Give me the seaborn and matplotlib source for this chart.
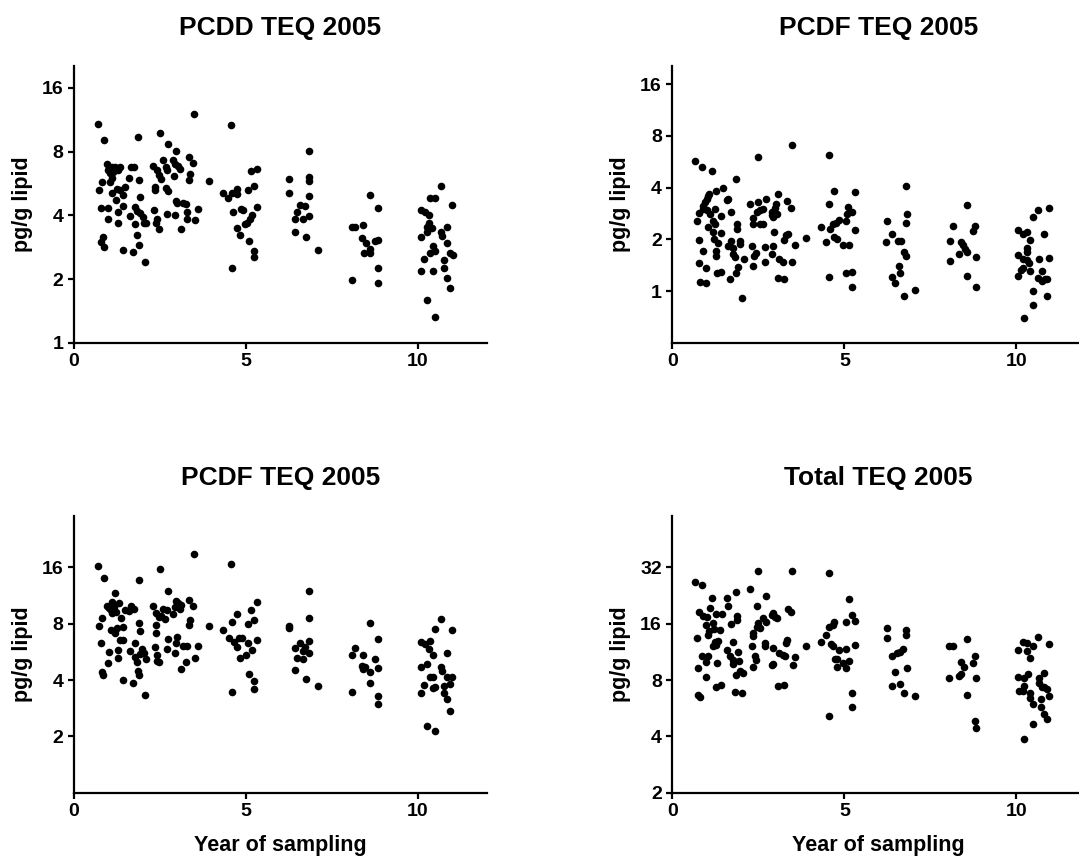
import matplotlib
matplotlib.use("Agg")
import matplotlib.pyplot as plt
import seaborn as sns
import pandas as pd
from matplotlib.ticker import FixedLocator, FixedFormatter, NullLocator

# ---------------- data ----------------
titles = ["PCDD TEQ 2005", "PCDF TEQ 2005", "PCDF TEQ 2005", "Total TEQ 2005"]
x_label = "Year of sampling"
y_label = "pg/g lipid"
x_ticks = [0, 5, 10]

pcdd_year = [0.70,0.88,1.87,2.51,3.49,2.74,2.95,3.35,3.47,2.60,2.89,2.94,3.03,3.08,2.30,2.40,2.48,2.52,2.68,2.69,
             0.95,1.00,1.09,1.19,1.34,1.05,1.14,1.29,1.65,1.74,0.80,1.09,1.05,1.60,1.90,2.92,3.37,3.33,3.91,0.73,
             1.09,1.24,1.34,1.48,1.22,1.41,2.36,2.35,2.66,2.72,1.92,2.97,2.98,3.16,3.25,0.78,1.00,1.41,1.77,1.84,
             1.92,2.00,1.28,1.63,2.33,2.71,2.93,3.28,3.59,1.00,1.29,1.78,2.02,2.09,2.40,2.38,2.47,3.28,3.52,3.10,
             1.84,1.89,0.83,0.78,0.88,1.41,1.71,2.05,
             4.56,4.34,4.49,4.58,4.73,4.73,5.07,5.24,5.15,5.32,4.63,4.84,4.90,5.33,5.16,5.12,5.04,4.98,4.73,4.83,
             5.08,5.24,5.24,4.58,
             6.24,6.24,6.41,6.41,6.49,6.57,6.72,6.65,6.74,6.83,6.83,6.84,6.84,6.83,7.08,
             8.08,8.16,8.41,8.59,8.83,8.36,8.49,8.75,8.83,8.43,8.59,8.60,8.83,8.08,8.83,
             10.67,10.35,10.49,11.00,10.08,10.20,10.33,10.33,10.25,10.40,10.25,10.84,10.67,10.69,10.08,10.43,
             10.49,10.35,10.84,10.92,11.01,10.16,10.76,10.09,10.43,10.76,10.84,10.92,10.25,10.49]
pcdd_teq = [10.8,9.06,9.4,9.8,12.1,8.74,8.04,7.51,7.09,7.29,7.29,7.03,6.84,6.66,6.86,6.54,6.20,5.96,6.79,6.54,
            7.03,6.54,6.79,6.79,6.79,6.31,6.43,6.54,6.74,6.74,5.77,5.98,5.77,6.02,5.87,6.13,6.27,5.87,5.83,5.27,
            5.12,5.33,5.27,5.46,4.73,4.99,5.46,5.30,5.40,5.23,4.90,4.69,4.59,4.56,4.52,4.36,4.36,4.43,4.39,4.21,
            4.09,3.94,4.13,3.97,4.24,4.07,4.00,4.15,4.28,3.83,3.67,3.63,3.69,3.69,3.84,3.67,3.44,3.83,3.80,3.44,
            3.25,2.90,3.17,3.00,2.83,2.75,2.68,2.42,
            10.7,5.13,4.86,5.08,5.33,5.04,5.27,5.50,6.50,6.66,4.16,4.27,4.24,4.39,4.01,3.83,3.69,3.64,3.50,3.23,
            3.03,2.72,2.54,2.27,
            5.96,5.13,3.83,3.35,4.13,4.48,4.44,3.83,3.17,8.07,6.09,5.83,4.93,3.97,2.75,
            3.51,3.54,3.60,4.99,4.35,3.12,2.97,3.04,3.06,2.65,2.77,2.65,2.25,1.98,1.91,
            5.52,4.85,4.86,4.46,4.24,4.16,4.00,3.69,3.54,3.50,3.35,3.51,3.35,3.20,3.15,2.87,2.73,2.65,2.97,2.67,
            2.60,2.48,2.46,2.19,2.19,2.27,2.03,1.81,1.60,1.33]

pcdf_year = [0.67,0.86,1.16,1.85,2.49,3.47,1.27,1.46,1.08,1.05,1.00,0.95,0.90,0.88,1.24,1.00,0.78,1.09,0.71,1.41,
             1.05,1.19,1.24,1.19,1.41,0.78,1.21,1.34,0.88,1.26,1.27,0.77,0.98,1.31,1.41,0.80,0.97,1.72,1.63,1.58,
             1.89,1.87,1.72,1.61,1.77,1.97,1.97,1.77,1.82,1.90,1.85,1.69,2.07,2.03,2.26,2.50,2.72,2.65,2.55,2.45,
             2.35,2.34,2.55,2.65,2.89,2.94,2.98,3.00,2.89,3.08,3.05,3.32,3.44,2.97,3.35,3.30,3.26,3.57,2.33,2.42,
             2.38,2.69,2.94,2.89,3.10,3.21,2.70,2.35,3.08,3.25,3.49,3.89,
             4.54,4.71,5.30,4.55,4.33,4.47,4.58,4.68,4.76,4.84,4.70,4.80,5.05,5.07,5.12,5.21,5.30,4.97,5.15,4.56,
             5.05,5.21,5.21,
             6.23,6.38,6.21,6.55,6.38,6.47,6.60,6.62,6.64,6.72,6.79,6.79,6.81,6.79,6.72,7.05,
             8.56,8.15,8.80,8.73,8.07,8.38,8.44,8.51,8.58,8.33,8.82,8.07,8.56,8.82,
             10.64,10.96,10.47,10.06,10.18,10.30,10.40,10.80,10.30,10.32,10.06,10.20,10.30,10.38,10.65,10.96,
             10.20,10.14,10.40,10.74,10.64,10.74,10.83,10.90,10.06,10.48,10.88,10.48,10.23]
pcdf_teq = [5.72,5.28,5.00,4.47,6.04,7.06,3.83,3.98,3.69,3.56,3.45,3.30,3.11,3.02,3.02,2.95,2.85,2.82,2.55,2.72,
            2.36,2.56,2.47,2.21,2.19,1.99,2.02,1.90,1.71,1.71,1.61,1.46,1.37,1.27,1.30,1.13,1.12,2.89,3.45,3.38,
            2.47,2.31,1.97,1.83,1.79,1.97,1.89,1.65,1.58,1.39,1.28,1.18,1.53,0.91,3.23,3.30,3.42,3.02,2.95,2.89,
            2.67,2.47,2.47,2.47,2.76,2.70,3.06,3.20,2.89,3.66,2.80,3.35,3.06,2.21,2.14,2.11,1.99,1.85,1.83,1.67,
            1.61,1.80,1.83,1.65,1.53,1.48,1.48,1.40,1.20,1.17,1.48,2.05,
            6.17,3.81,3.77,3.20,2.36,1.92,2.31,2.45,2.49,2.58,2.08,2.02,2.55,2.80,3.09,2.89,2.26,1.85,1.85,1.21,
            1.28,1.29,1.06,
            2.55,2.16,1.93,1.97,1.21,1.11,1.41,1.28,1.96,1.69,1.61,4.07,2.82,2.49,0.94,1.02,
            3.16,2.41,2.38,2.24,1.97,1.93,1.85,1.76,1.70,1.64,1.58,1.50,1.22,1.06,
            2.98,3.05,2.70,2.26,2.14,2.21,1.99,2.14,1.78,1.69,1.63,1.53,1.51,1.46,1.53,1.56,1.37,1.32,1.31,1.31,
            1.20,1.15,1.18,1.18,1.23,1.00,0.94,0.83,0.70]

pcdf2_year = [0.69,0.88,1.88,2.51,3.49,2.74,1.19,0.95,1.03,1.11,1.16,1.07,1.32,1.49,1.61,1.66,1.74,1.11,1.22,1.37,
              0.80,0.73,1.07,1.19,1.24,1.43,1.34,1.43,1.90,1.92,2.29,2.38,2.48,2.52,2.60,2.65,2.69,2.89,2.93,2.95,
              3.03,3.08,3.11,3.35,3.47,3.37,3.33,2.37,2.37,3.91,0.78,1.01,1.27,1.29,1.00,0.80,0.83,1.41,1.71,2.05,
              1.85,1.90,1.84,1.63,1.77,1.78,1.92,2.02,2.09,1.97,2.34,2.42,2.47,2.40,2.71,2.72,2.98,2.97,2.93,3.16,
              3.28,3.26,3.52,3.59,3.10,
              4.56,4.34,4.50,4.58,4.65,4.75,4.81,4.87,4.83,4.75,5.07,5.15,5.32,5.24,5.32,5.07,5.16,5.00,5.08,5.24,
              5.24,4.58,
              6.24,6.24,6.41,6.49,6.41,6.57,6.72,6.67,6.65,6.83,6.83,6.84,6.83,6.74,7.08,
              8.17,8.08,8.41,8.59,8.83,8.75,8.36,8.46,8.41,8.59,8.83,8.59,8.08,8.83,8.83,
              10.67,10.49,11.00,10.08,10.20,10.35,10.33,10.43,10.84,10.08,10.25,10.67,10.69,10.35,10.43,10.84,
              11.00,10.94,10.16,10.43,10.49,10.76,10.09,10.76,10.84,10.92,10.25,10.49]
pcdf2_teq = [16.3,14.1,13.7,15.6,18.9,12.0,11.7,9.99,9.66,10.4,9.86,9.46,10.3,9.46,9.35,9.94,9.58,9.08,9.27,8.61,
             8.54,7.77,7.40,7.16,7.55,7.65,6.54,6.54,8.10,7.34,9.99,9.16,8.65,8.79,9.62,8.47,9.46,9.01,9.86,10.6,
             10.3,9.62,10.1,10.7,10.0,8.37,7.87,7.87,7.10,7.77,6.28,5.67,5.79,5.22,4.91,4.43,4.25,4.00,3.84,3.31,
             4.47,4.25,5.01,5.74,6.28,5.29,5.51,5.60,5.18,5.83,6.03,5.44,5.01,5.07,5.83,6.65,6.82,6.33,5.55,6.08,
             6.08,5.01,5.26,6.08,4.58,
             16.7,7.40,6.68,8.20,6.41,9.01,6.73,6.68,5.22,5.98,7.97,9.46,10.4,8.37,6.54,6.33,5.79,5.44,4.29,3.95,
             3.57,3.47,
             7.77,7.55,5.91,5.22,4.52,6.33,6.03,5.74,5.18,5.55,6.49,8.54,12.0,4.05,3.73,
             5.91,5.44,5.44,8.03,6.65,5.20,4.75,4.71,4.56,4.41,4.64,3.84,3.45,3.30,2.97,
             8.44,7.49,7.43,6.41,6.23,6.46,5.83,5.42,5.60,4.71,4.87,4.71,4.47,4.13,4.13,4.13,4.13,3.81,3.78,3.64,
             3.69,3.73,3.39,3.39,3.17,2.74,2.27,2.15]

total_year = [0.67,0.86,2.49,3.47,1.85,2.26,2.72,1.16,1.58,1.63,1.09,0.78,0.90,1.00,1.27,1.45,1.87,1.89,1.19,0.98,
              1.08,1.05,1.21,1.39,0.71,1.24,1.34,1.19,1.27,1.72,1.75,1.60,1.68,1.77,1.75,1.95,0.85,1.05,0.98,1.29,
              0.76,0.97,1.85,1.97,2.06,1.92,1.26,1.41,1.82,2.03,0.76,0.80,2.34,2.35,2.45,2.50,2.55,2.65,2.47,2.89,
              2.94,2.98,3.05,2.72,2.31,2.40,2.43,2.35,2.69,2.69,2.94,3.10,3.21,3.28,3.32,3.30,3.37,3.45,3.57,2.94,
              2.89,3.50,3.06,3.25,3.89,
              4.54,4.33,4.47,4.56,4.66,4.71,4.60,4.68,4.84,4.73,4.80,4.78,5.05,5.05,5.13,5.21,5.30,5.30,5.15,4.97,
              5.05,5.21,5.21,4.55,
              6.23,6.23,6.38,6.47,6.38,6.54,6.62,6.62,6.70,6.79,6.79,6.81,6.72,7.05,
              8.56,8.05,8.15,8.80,8.73,8.38,8.48,8.38,8.33,8.05,8.82,8.56,8.80,8.82,
              10.64,10.96,10.20,10.30,10.48,10.06,10.30,10.40,10.80,10.06,10.23,10.33,10.65,10.65,10.23,10.09,
              10.18,10.40,10.40,10.48,10.74,10.80,10.88,10.96,10.72,10.72,10.80,10.88,10.48,10.23]
total_teq = [26.8,25.9,30.7,30.6,23.7,24.4,22.6,21.9,22.0,20.0,19.3,18.5,17.6,17.4,18.0,18.0,17.6,16.7,16.1,15.7,
             14.7,14.0,14.9,14.8,13.4,12.7,12.9,12.1,12.3,15.9,12.8,11.6,10.7,10.3,9.74,10.1,10.8,10.7,10.0,9.82,
             9.24,8.26,8.50,8.94,8.68,11.3,7.38,7.52,6.90,6.78,6.65,6.46,14.3,13.7,15.3,16.1,15.1,17.1,20.0,17.8,
             18.2,17.4,17.1,16.4,12.2,10.8,10.2,9.42,12.6,12.2,11.8,11.1,10.9,10.7,13.1,12.6,19.1,18.5,10.6,9.74,
             9.62,9.62,7.43,7.52,12.1,
             30.0,12.7,14.0,15.3,15.7,16.4,12.5,12.2,11.6,10.4,9.42,10.4,11.7,16.3,21.6,17.7,16.6,12.3,10.1,9.82,
             9.31,6.78,5.72,5.14,
             15.2,13.5,10.7,8.79,7.43,11.1,11.3,7.62,11.7,14.8,14.0,9.31,6.78,6.60,
             13.3,12.2,12.2,10.8,9.90,10.0,9.35,8.58,8.40,8.17,8.23,6.68,4.85,4.41,
             13.6,12.4,12.7,12.6,12.2,11.6,11.5,10.5,8.75,8.33,8.23,8.61,8.17,7.74,7.43,6.99,6.99,6.85,6.39,5.94,
             7.38,7.38,7.16,6.54,6.36,5.76,5.26,4.95,4.66,3.86]

y_ticks = [[1, 2, 4, 8, 16], [1, 2, 4, 8, 16], [2, 4, 8, 16], [2, 4, 8, 16, 32]]
y_limits = [(1, 20.3), (0.5, 20.4), (1, 30.1), (2, 60.2)]

# ---------------- style ----------------
sns.set_style("ticks")
plt.rcParams['font.family'] = ['Liberation Sans', 'DejaVu Sans']
plt.rcParams['font.weight'] = 'bold'
plt.rcParams['axes.linewidth'] = 1.6
for key in ['text.color', 'axes.labelcolor', 'xtick.color', 'ytick.color', 'axes.edgecolor',
            'xtick.labelcolor', 'ytick.labelcolor']:
    plt.rcParams[key] = 'black'

fig = plt.figure(figsize=(10.79, 8.57), dpi=100)

positions = [
    [0.0686, 0.5998, 0.3826, 0.3232],
    [0.6231, 0.5998, 0.3826, 0.3232],
    [0.0686, 0.0750, 0.3826, 0.3229],
    [0.6231, 0.0750, 0.3826, 0.3229],
]
series = [(pcdd_year, pcdd_teq), (pcdf_year, pcdf_teq), (pcdf2_year, pcdf2_teq), (total_year, total_teq)]

for i, (xs, ys) in enumerate(series):
    n = min(len(xs), len(ys))
    df = pd.DataFrame({"year": xs[:n], "teq": ys[:n]})
    ax = fig.add_axes(positions[i])
    sns.scatterplot(data=df, x="year", y="teq", ax=ax, color="black", s=30,
                    linewidth=0, legend=False, clip_on=False)
    ax.set_yscale("log", base=2)
    ax.set_xlim(0, 12)
    ax.set_ylim(*y_limits[i])
    ax.yaxis.set_major_locator(FixedLocator(y_ticks[i]))
    ax.yaxis.set_major_formatter(FixedFormatter([str(t) for t in y_ticks[i]]))
    ax.yaxis.set_minor_locator(NullLocator())
    ax.set_xticks(x_ticks)
    ax.set_xticklabels([str(t) for t in x_ticks])
    for s in ["top", "right"]:
        ax.spines[s].set_visible(False)
    for s in ["left", "bottom"]:
        ax.spines[s].set_linewidth(1.6)
        ax.spines[s].set_color("black")
    ax.tick_params(direction="out", length=4.5, width=1.6, labelsize=14, pad=3,
                   color="black", labelcolor="black")
    for lab in ax.get_xticklabels() + ax.get_yticklabels():
        lab.set_fontweight("bold")
    ax.set_title(titles[i], fontsize=19, fontweight="bold", pad=22, color="black")
    ax.set_ylabel(y_label, fontsize=15.5, fontweight="bold", color="black")
    ax.yaxis.label.set_va("center")
    ax.yaxis.set_label_coords(-0.126, 0.5)
    if i >= 2:
        ax.set_xlabel(x_label, fontsize=15.5, fontweight="bold", color="black")
        ax.xaxis.label.set_va("center")
        ax.xaxis.set_label_coords(0.5, -0.189)
    else:
        ax.set_xlabel("")

fig.savefig("out.png", dpi=100)
